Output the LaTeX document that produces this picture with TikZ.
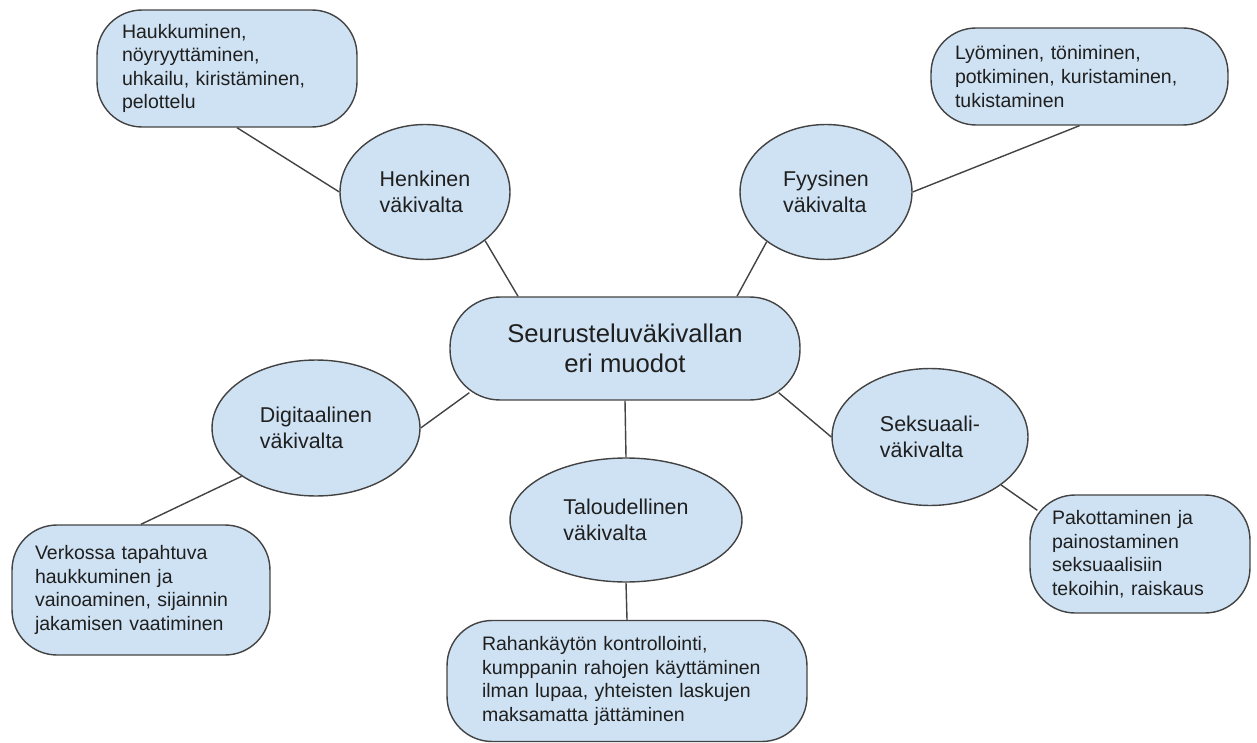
\documentclass[tikz,border=0pt]{standalone}
\usepackage{fontspec}
\setmainfont{Liberation Sans}
\usetikzlibrary{shapes.geometric}

\definecolor{paleblue}{HTML}{CFE2F3}
\definecolor{edgegray}{HTML}{434343}
\definecolor{inkgray}{HTML}{1F1F1F}

\begin{document}
\begin{tikzpicture}[x=0.02cm, y=-0.02cm, line width=0.8pt, draw=edgegray,
                    main node/.style={draw=edgegray,fill=paleblue,text=inkgray,rounded corners=1cm,
                      minimum width=7cm,minimum height=2.06cm,align=center,inner sep=0pt,
                      font=\fontsize{14.6pt}{17pt}\selectfont},
                    form node/.style={ellipse,draw=edgegray,fill=paleblue,text=inkgray,align=left,
                      inner sep=0pt,font=\fontsize{12.2pt}{14.8pt}\selectfont},
                    note node/.style={draw=edgegray,fill=paleblue,text=inkgray,rounded corners=0.9cm,
                      align=left,inner ysep=0pt,font=\fontsize{11.1pt}{13.4pt}\selectfont}]

  \useasboundingbox (0,0) rectangle (1257,743);

  \node[main node] (mid) at (625,348.5) {Seurusteluväkivallan\\eri muodot};

  \node[form node,minimum width=3.4cm,minimum height=2.7cm] (henk) at (425,192) {Henkinen\\väkivalta};
  \node[form node,minimum width=3.44cm,minimum height=2.7cm] (fyys) at (826,192) {Fyysinen\\väkivalta};
  \node[form node,minimum width=4.16cm,minimum height=2.72cm] (digi) at (316,428) {Digitaalinen\\väkivalta};
  \node[form node,minimum width=3.92cm,minimum height=2.74cm] (seks) at (930,437) {Seksuaali-\\väkivalta};
  \node[form node,minimum width=4.64cm,minimum height=2.48cm] (talo) at (626,520) {Taloudellinen\\väkivalta};

  \node[note node,inner xsep=0.5cm,text width=4.2cm,minimum height=2.34cm] (hauk) at (227,68.5)
    {Haukkuminen,\\nöyryyttäminen,\\uhkailu, kiristäminen,\\pelottelu};
  \node[note node,inner xsep=0.48cm,text width=4.98cm,minimum height=1.94cm] (lyo) at (1079.5,76.5)
    {Lyöminen, töniminen,\\potkiminen, kuristaminen,\\tukistaminen};
  \node[note node,inner xsep=0.46cm,text width=4.24cm,minimum height=2.6cm] (verk) at (141,590)
    {Verkossa tapahtuva\\haukkuminen ja\\vainoaminen, sijainnin\\jakamisen vaatiminen};
  \node[note node,inner xsep=0.44cm,text width=3.52cm,minimum height=2.36cm] (pako) at (1140,554)
    {Pakottaminen ja\\painostaminen\\seksuaalisiin\\tekoihin, raiskaus};
  \node[note node,inner xsep=0.7cm,text width=5.8cm,minimum height=2.42cm] (raha) at (627,681)
    {Rahankäytön kontrollointi,\\kumppanin rahojen käyttäminen\\ilman lupaa, yhteisten laskujen\\maksamatta jättäminen};

  \draw ([xshift=0.2cm]hauk.south) -- (henk.west);
  \draw (henk.-39) -- ([xshift=-2.14cm]mid.north);
  \draw (fyys.-140) -- ([xshift=2.24cm]mid.north);
  \draw (fyys.east) -- (lyo.south);
  \draw ([xshift=0.4cm,yshift=0.16cm]mid.south west) -- (digi.east);
  \draw (digi.-147) -- (verk.north);
  \draw (mid.south) -- (talo.north);
  \draw ([xshift=-0.44cm,yshift=0.16cm]mid.south east) -- (seks.west);
  \draw (seks.-34) -- ([xshift=0.16cm,yshift=-0.32cm]pako.north west);
  \draw (talo.south) -- (raha.north);

\end{tikzpicture}
\end{document}
